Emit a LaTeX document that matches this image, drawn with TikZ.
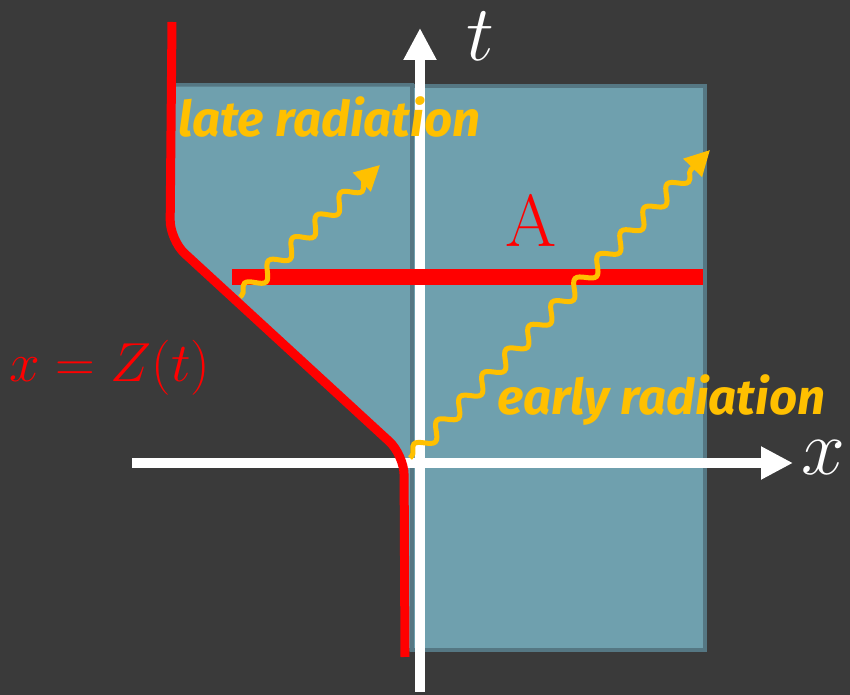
\documentclass[tikz,border=0pt]{standalone}
\usepackage{fontspec}
\newfontfamily\radfont{Fira Sans}
\usetikzlibrary{arrows.meta, positioning, decorations.pathmorphing}
\definecolor{bggray}{HTML}{3A3A3A}
\definecolor{regionteal}{HTML}{6FA0AE}
\definecolor{regionedge}{HTML}{557783}
\definecolor{wavegold}{HTML}{FFC000}
\definecolor{mirrorred}{HTML}{FF0000}

\begin{document}
\begin{tikzpicture}[x=0.02cm, y=-0.02cm,
  axis/.style={draw=white, line width=0.2cm, -{Triangle[length=0.64cm, width=0.62cm]}},
  photon/.style={draw=wavegold, line width=0.1cm, decorate,
    decoration={snake, amplitude=0.14cm, segment length=0.66cm, pre length=0.05cm, post length=0.4cm},
    -{Triangle[length=0.5cm, width=0.5cm]}},
  region/.style={fill=regionteal, draw=regionedge, line width=0.07cm},
  radlabel/.style={text=wavegold, inner sep=0pt, font=\radfont\bfseries\itshape\fontsize{28}{28}\selectfont}]
  \fill[bggray] (0,0) rectangle (850,695);
  \useasboundingbox (0,0) rectangle (850,695);

  % region behind the mirror
  \path[region] (171,85) -- (412,85) -- (412,650) -- (405,650) -- (405,475) -- (398,452)
    -- (185,255) -- (171,236) -- cycle;
  \path[region] (412,86) rectangle (705,650);

  % axes
  \coordinate (tfrom) at (420,692);
  \coordinate (tto) at (420,28);
  \coordinate (xfrom) at (132,463);
  \coordinate (xto) at (793,463);
  \draw[axis] (tfrom) -- (tto);
  \draw[axis] (xfrom) -- (xto);
  \node[text=white, font=\Huge, inner sep=0pt] (tlabel) at (480,36) {\scalebox{1.8}{$t$}};
  \node[text=white, font=\Huge, inner sep=0pt] (xlabel) at (823,458) {\scalebox{1.8}{$x$}};

  % mirror trajectory and slice A
  \coordinate (ztop) at (172,22);
  \coordinate (zbend) at (170,240);
  \coordinate (zknee) at (404,455);
  \coordinate (zbot) at (405,657);
  \draw[mirrorred, line width=0.18cm, rounded corners=0.4cm] (ztop) -- (zbend) -- (zknee) -- (zbot);
  \node[text=mirrorred, font=\Huge, inner sep=0pt] (zlabel) at (110,368) {\scalebox{1.26}{$x=Z(t)$}};

  \coordinate (aleft) at (232,277);
  \coordinate (aright) at (703,277);
  \draw[mirrorred, line width=0.32cm] (aleft) -- (aright);
  \node[text=mirrorred, font=\fontsize{42}{42}\selectfont] (Alabel) at (531,220) {A};

  % radiation
  \coordinate (latefrom) at (240,297);
  \coordinate (lateto) at (380,165);
  \coordinate (earlyfrom) at (410,458);
  \coordinate (earlyto) at (710,150);
  \draw[photon] (latefrom) -- (lateto);
  \draw[photon] (earlyfrom) -- (earlyto);
  \node[radlabel, anchor=base west] (late) at (178,137) {late radiation};
  \node[radlabel, anchor=base west] (early) at (497,415) {early radiation};
\end{tikzpicture}
\end{document}
